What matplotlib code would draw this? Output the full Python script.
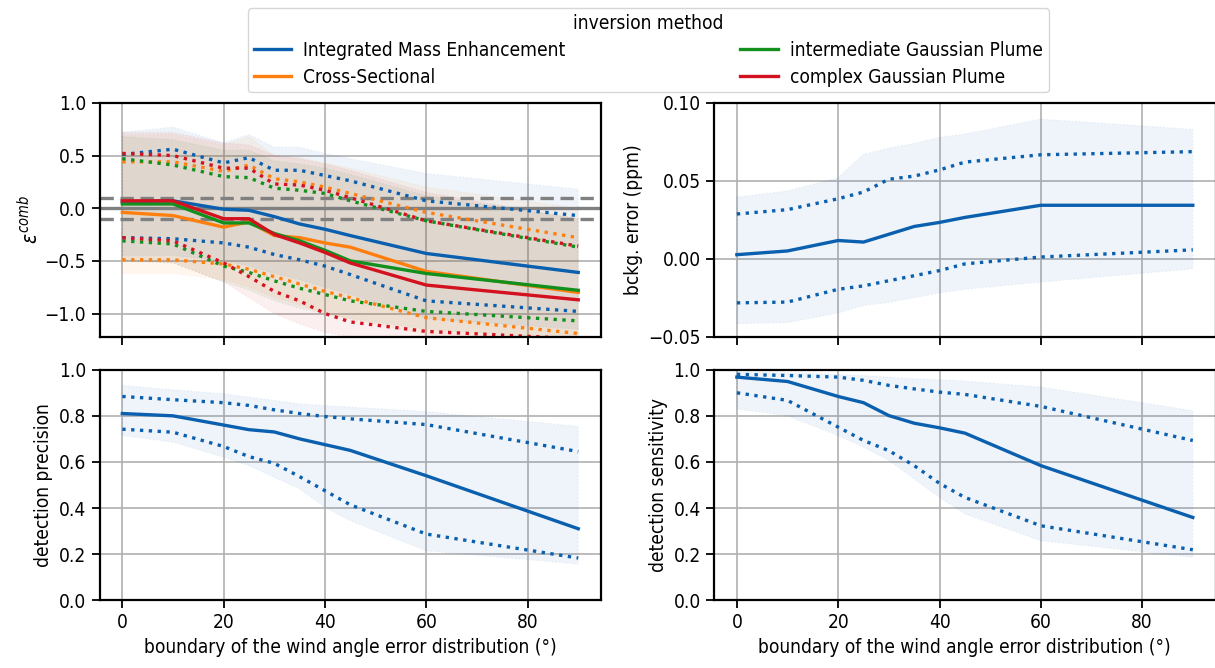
import numpy as np
import matplotlib
matplotlib.use("Agg")
import matplotlib.pyplot as plt

# wind angle error boundary (deg)
angles = [0, 10, 20, 25, 30, 35, 40, 45, 60, 90]

methods = ["Integrated Mass Enhancement", "Cross-Sectional",
           "intermediate Gaussian Plume", "complex Gaussian Plume"]
colors = ["#0a5fae", "#ff7f0e", "#12901e", "#d4111e"]

# epsilon_comb: median, inner band (dotted), outer band (shaded)
eps_mid = [
    [0.06, 0.07, -0.01, -0.02, -0.08, -0.15, -0.20, -0.26, -0.43, -0.61],
    [-0.04, -0.07, -0.18, -0.13, -0.26, -0.28, -0.33, -0.37, -0.60, -0.80],
    [0.04, 0.04, -0.14, -0.14, -0.24, -0.31, -0.40, -0.50, -0.62, -0.78],
    [0.07, 0.07, -0.10, -0.10, -0.25, -0.33, -0.42, -0.52, -0.73, -0.87],
]
eps_hi = [
    [0.51, 0.56, 0.43, 0.48, 0.36, 0.36, 0.31, 0.26, 0.07, -0.07],
    [0.44, 0.44, 0.35, 0.41, 0.28, 0.25, 0.20, 0.14, -0.04, -0.28],
    [0.47, 0.41, 0.30, 0.29, 0.19, 0.17, 0.14, 0.07, -0.12, -0.37],
    [0.52, 0.50, 0.38, 0.38, 0.23, 0.22, 0.17, 0.10, -0.12, -0.36],
]
eps_lo = [
    [-0.28, -0.29, -0.33, -0.37, -0.44, -0.49, -0.55, -0.63, -0.88, -0.98],
    [-0.49, -0.49, -0.53, -0.58, -0.65, -0.72, -0.79, -0.85, -1.04, -1.19],
    [-0.31, -0.34, -0.55, -0.61, -0.69, -0.76, -0.82, -0.88, -0.98, -1.07],
    [-0.28, -0.31, -0.52, -0.65, -0.79, -0.88, -1.00, -1.08, -1.17, -1.24],
]
eps_fill_hi = [
    [0.72, 0.77, 0.62, 0.70, 0.58, 0.58, 0.52, 0.47, 0.33, 0.18],
    [0.70, 0.70, 0.60, 0.68, 0.50, 0.48, 0.43, 0.38, 0.20, 0.00],
    [0.68, 0.65, 0.55, 0.55, 0.45, 0.42, 0.38, 0.32, 0.12, -0.10],
    [0.72, 0.72, 0.62, 0.60, 0.50, 0.47, 0.42, 0.36, 0.15, -0.10],
]
eps_fill_lo = [
    [-0.45, -0.45, -0.50, -0.55, -0.62, -0.68, -0.75, -0.82, -1.05, -1.15],
    [-0.62, -0.62, -0.68, -0.75, -0.85, -0.92, -1.00, -1.05, -1.20, -1.30],
    [-0.50, -0.52, -0.70, -0.78, -0.88, -0.95, -1.00, -1.05, -1.15, -1.25],
    [-0.50, -0.52, -0.70, -0.85, -1.00, -1.10, -1.18, -1.22, -1.30, -1.35],
]

# background error (ppm)
bg_mid = [0.0026, 0.005, 0.0117, 0.0107, 0.0157, 0.0207, 0.0233, 0.0265, 0.0343, 0.0343]
bg_hi = [0.0287, 0.0315, 0.0385, 0.0428, 0.051, 0.053, 0.057, 0.062, 0.0667, 0.0687]
bg_lo = [-0.0283, -0.0278, -0.0196, -0.0174, -0.0141, -0.0109, -0.0076, -0.0033, 0.0011, 0.0057]
bg_fill_hi = [0.0396, 0.0435, 0.052, 0.067, 0.071, 0.074, 0.078, 0.080, 0.0896, 0.083]
bg_fill_lo = [-0.0417, -0.041, -0.0348, -0.030, -0.028, -0.025, -0.022, -0.0196, -0.015, -0.0065]

# detection precision
pr_mid = [0.81, 0.80, 0.76, 0.74, 0.73, 0.70, 0.675, 0.65, 0.54, 0.31]
pr_hi = [0.884, 0.87, 0.857, 0.845, 0.826, 0.81, 0.797, 0.787, 0.762, 0.645]
pr_lo = [0.742, 0.729, 0.667, 0.623, 0.594, 0.536, 0.475, 0.414, 0.287, 0.183]
pr_fill_hi = [0.932, 0.913, 0.896, 0.881, 0.867, 0.852, 0.845, 0.838, 0.819, 0.754]
pr_fill_lo = [0.714, 0.686, 0.62, 0.584, 0.533, 0.483, 0.403, 0.345, 0.214, 0.157]

# detection sensitivity
se_mid = [0.968, 0.949, 0.884, 0.857, 0.801, 0.768, 0.748, 0.725, 0.584, 0.359]
se_hi = [0.98, 0.975, 0.968, 0.954, 0.932, 0.917, 0.903, 0.893, 0.841, 0.693]
se_lo = [0.90, 0.867, 0.751, 0.693, 0.649, 0.584, 0.507, 0.446, 0.323, 0.219]
se_fill_hi = [0.99, 0.986, 0.98, 0.975, 0.968, 0.961, 0.957, 0.951, 0.925, 0.823]
se_fill_lo = [0.83, 0.80, 0.714, 0.664, 0.606, 0.526, 0.446, 0.374, 0.258, 0.186]

FS = 13.7
plt.rcParams["font.size"] = FS
plt.rcParams["font.stretch"] = "condensed"
plt.rcParams["axes.linewidth"] = 1.6

fig = plt.figure(figsize=(12.15, 6.68), dpi=100)
W = 0.4128
ax_eps = fig.add_axes([0.0819, 0.496, W, 0.350])
ax_bg = fig.add_axes([0.5877, 0.496, W, 0.350])
ax_pr = fig.add_axes([0.0819, 0.1015, W, 0.345])
ax_se = fig.add_axes([0.5877, 0.1015, W, 0.345])

LW = 2.4


def band(ax, c, mid, hi, lo, fhi, flo, label=None):
    ax.fill_between(angles, flo, fhi, color=c, alpha=0.065, linestyle=":", lw=1)
    ax.plot(angles, hi, ":", color=c, lw=LW)
    ax.plot(angles, lo, ":", color=c, lw=LW)
    line, = ax.plot(angles, mid, "-", color=c, lw=LW, label=label)
    return line


handles = []
for i in range(4):
    h = band(ax_eps, colors[i], eps_mid[i], eps_hi[i], eps_lo[i],
             eps_fill_hi[i], eps_fill_lo[i], methods[i])
    handles.append(h)
ax_eps.axhline(0, color="gray", lw=2.4, zorder=1)
ax_eps.axhline(0.1, color="gray", lw=2.4, ls=(0, (4, 2)), zorder=1)
ax_eps.axhline(-0.1, color="gray", lw=2.4, ls=(0, (4, 2)), zorder=1)
ax_eps.set_ylim(-1.22, 1.0)
ax_eps.set_yticks([-1.0, -0.5, 0.0, 0.5, 1.0])
ax_eps.set_ylabel(r"$\varepsilon^{comb}$", fontsize=15, labelpad=2)

band(ax_bg, colors[0], bg_mid, bg_hi, bg_lo, bg_fill_hi, bg_fill_lo)
ax_bg.set_ylim(-0.05, 0.10)
ax_bg.set_yticks([-0.05, 0.0, 0.05, 0.10])
ax_bg.set_ylabel("bckg. error (ppm)")

band(ax_pr, colors[0], pr_mid, pr_hi, pr_lo, pr_fill_hi, pr_fill_lo)
ax_pr.set_ylabel("detection precision")

band(ax_se, colors[0], se_mid, se_hi, se_lo, se_fill_hi, se_fill_lo)
ax_se.set_ylabel("detection sensitivity")

for ax in (ax_pr, ax_se):
    ax.set_ylim(0, 1.0)
    ax.set_yticks([0.0, 0.2, 0.4, 0.6, 0.8, 1.0])
    ax.set_xlabel("boundary of the wind angle error distribution (°)")

for ax in (ax_eps, ax_bg, ax_pr, ax_se):
    ax.set_xlim(-4.5, 94.5)
    ax.set_xticks([0, 20, 40, 60, 80])
    ax.grid(True, color="#b0b0b0", lw=1.2)
    ax.set_axisbelow(True)
    ax.tick_params(length=6, width=1.3)

for ax in (ax_eps, ax_bg):
    ax.tick_params(labelbottom=False)

leg = fig.legend(handles=handles, labels=methods, title="inversion method",
                 loc="upper left", bbox_to_anchor=(248 / 1215, 1 - 8 / 668),
                 ncol=2, frameon=True, borderaxespad=0, borderpad=0.3,
                 handlelength=1.95, handletextpad=0.65, labelspacing=0.42,
                 columnspacing=9.2, title_fontsize=FS)
leg.get_frame().set_edgecolor("#cccccc")

fig.savefig("out.png", dpi=100)
